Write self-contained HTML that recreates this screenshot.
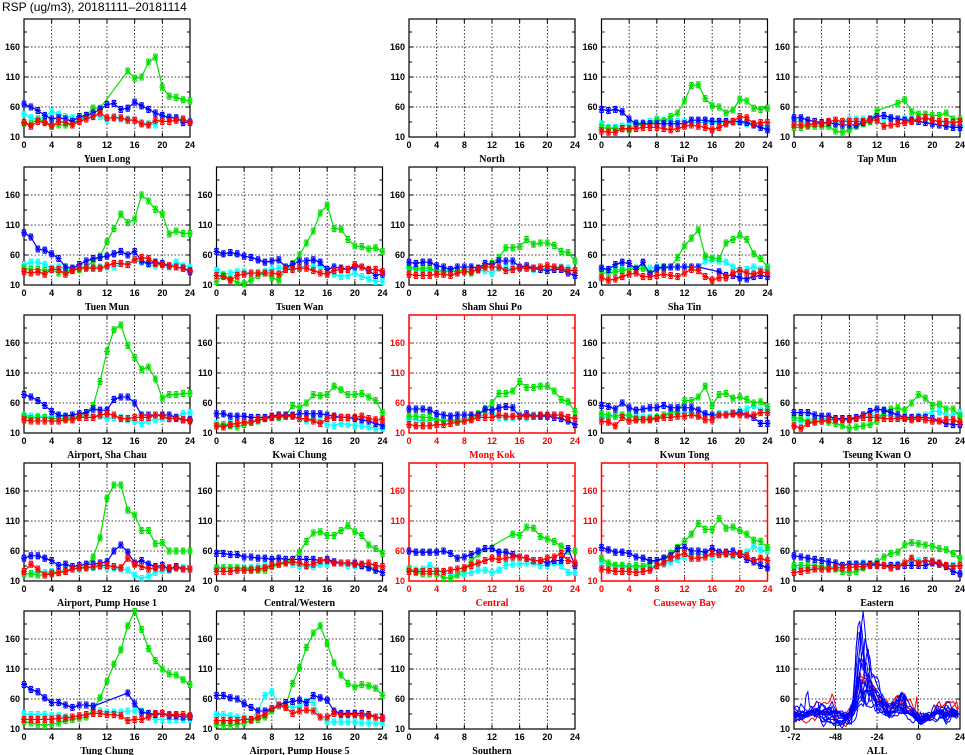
<!DOCTYPE html>
<html><head><meta charset="utf-8">
<style>
html,body{margin:0;padding:0;background:#fff;}
svg{display:block;font-family:"Liberation Sans",sans-serif;}
.tk{font-size:9px;font-weight:bold;}
.tt{font-size:10px;font-weight:bold;font-family:"Liberation Serif",serif;}
</style></head>
<body>
<svg id="chart" width="965" height="755" viewBox="0 0 965 755" xmlns="http://www.w3.org/2000/svg">
<rect width="965" height="755" fill="#fff"/>
<text x="2" y="11" font-size="12">RSP (ug/m3), 20181111–20181114</text>
</svg>
<script>
const hours = [0,1,2,3,4,5,6,7,8,9,10,11,12,13,14,15,16,17,18,19,20,21,22,23,24];
const yTicks = [10,60,110,160];
const xTicks = [0,4,8,12,16,20,24];
const allXTicks = [-72,-48,-24,0,24];
const seriesColors = ["#00ffff","#00e000","#0000ff","#ff0000"];
const N = null;
const yuenLongBlue = [65,60,54,46,40,42,40,36,44,46,50,56,64,66,56,58,68,62,56,50,46,42,42,34,35];
const yuenLongCyan = [48,42,40,44,52,48,44,42,38,44,46,44,38,44,40,40,38,34,32,30,44,44,40,38,34];
const yuenLongGreen = [33,32,40,36,30,30,30,30,40,46,58,58,N,N,N,120,108,110,135,143,93,78,76,72,70];
const yuenLongRed = [34,28,36,34,28,36,34,30,36,40,44,50,42,42,42,38,38,32,30,38,36,36,38,40,34];
const taiPoBlue = [56,54,56,52,40,32,32,32,32,32,32,32,32,38,38,38,36,36,36,36,36,34,30,26,22];
const taiPoCyan = [32,26,26,28,32,34,34,36,40,38,36,36,36,34,34,34,34,34,34,34,34,32,30,30,28];
const taiPoGreen = [26,24,24,24,22,30,30,32,38,36,44,50,70,96,97,74,62,60,50,55,73,70,58,56,58];
const taiPoRed = [20,18,18,24,24,24,26,26,26,24,22,24,28,30,28,26,22,26,32,36,44,42,32,34,34];
const tapMunBlue = [42,42,38,36,34,34,32,30,30,30,34,40,44,46,42,40,38,38,36,34,32,30,28,26,26];
const tapMunCyan = [36,36,32,32,32,32,32,36,40,40,40,40,40,40,40,40,40,40,40,40,38,36,34,30,28];
const tapMunGreen = [26,26,28,28,28,28,20,18,22,28,32,36,54,N,N,66,72,52,48,48,46,46,50,40,40];
const tapMunRed = [30,30,30,32,32,36,38,36,36,36,36,38,38,28,30,32,34,36,40,42,38,36,36,34,36];
const tuenMunBlue = [97,90,70,68,62,54,40,38,44,50,54,56,58,62,66,60,66,50,46,48,46,42,40,38,32];
const tuenMunCyan = [44,48,48,44,38,40,38,36,40,40,40,40,40,40,46,44,52,48,44,42,44,40,48,42,40];
const tuenMunGreen = [38,36,36,34,36,30,32,36,36,40,50,58,82,104,128,114,120,160,150,136,128,95,100,96,96];
const tuenMunRed = [32,30,32,28,36,36,28,34,38,38,38,38,42,46,46,44,52,56,54,46,44,42,40,38,34];
const tsuenWanBlue = [66,62,64,62,58,56,52,48,50,52,40,44,50,50,52,48,36,40,38,36,40,40,34,26,28];
const tsuenWanCyan = [34,28,30,32,32,30,30,32,36,38,38,38,38,42,42,42,36,28,24,26,30,24,20,16,16];
const tsuenWanGreen = [16,26,20,14,12,18,26,30,22,18,36,46,60,80,100,130,143,104,103,86,75,74,70,72,66];
const tsuenWanRed = [26,24,18,26,28,30,30,30,30,28,36,36,38,38,34,30,28,34,36,36,44,40,36,36,32];
const shamShuiPoBlue = [48,46,48,48,42,40,36,40,40,40,38,46,44,50,50,50,40,42,38,36,34,36,36,30,26];
const shamShuiPoCyan = [38,36,34,34,36,34,34,32,36,36,34,34,30,38,38,38,40,38,36,36,38,38,40,38,34];
const shamShuiPoGreen = [40,38,38,38,32,32,32,34,34,30,38,42,46,56,72,72,74,86,78,80,80,76,66,64,50];
const shamShuiPoRed = [28,26,26,26,28,28,26,30,32,32,36,40,40,40,34,36,38,38,38,40,42,40,38,34,34];
const shaTinBlue = [38,36,44,48,46,36,48,28,38,40,40,40,40,40,40,N,N,32,26,26,22,20,24,26,24];
const shaTinCyan = [36,34,36,36,36,38,38,38,40,40,40,40,40,40,40,50,52,50,48,40,34,36,40,36,36];
const shaTinGreen = [30,30,32,34,36,38,38,30,36,38,40,56,75,88,102,58,55,54,80,86,93,86,62,54,40];
const shaTinRed = [22,18,20,24,28,30,24,24,26,28,26,24,30,36,34,24,18,22,22,30,34,30,28,32,30];
const shaChauBlue = [74,70,64,56,46,40,38,40,42,44,50,48,48,66,70,70,60,40,40,40,40,40,36,32,32];
const shaChauCyan = [40,38,38,36,38,38,36,36,36,40,40,38,34,36,36,32,30,26,30,32,34,34,36,42,44];
const shaChauGreen = [38,34,36,36,34,34,34,36,38,44,56,96,146,182,190,156,136,116,120,100,68,74,74,76,76];
const shaChauRed = [32,30,30,30,30,30,32,32,36,36,36,40,42,40,34,34,36,36,36,40,38,34,34,32,30];
const kwaiChungBlue = [42,42,38,38,38,36,36,36,38,40,40,40,42,42,42,42,40,38,36,36,34,32,30,26,22];
const kwaiChungCyan = [26,24,26,26,28,30,30,34,36,36,38,38,34,30,34,30,24,22,26,24,22,22,20,18,18];
const kwaiChungGreen = [22,24,22,20,24,28,30,34,36,36,38,56,52,60,74,72,74,88,82,74,74,76,70,64,44];
const kwaiChungRed = [22,20,24,26,28,28,32,34,36,38,38,38,34,34,30,26,34,36,36,36,36,38,34,32,32];
const mongKokBlue = [50,50,50,48,42,40,38,40,40,40,40,50,48,52,54,52,38,42,38,38,38,36,34,30,24];
const mongKokCyan = [34,32,30,30,32,32,32,32,34,36,38,40,44,36,36,36,40,36,40,38,38,40,40,36,34];
const mongKokGreen = [38,38,36,36,32,30,30,30,30,34,42,48,60,76,76,80,96,86,86,88,88,80,66,62,46];
const mongKokRed = [24,22,22,22,24,24,26,28,30,32,36,36,36,40,38,38,38,38,38,40,40,40,40,36,34];
const kwunTongBlue = [56,54,50,60,52,48,50,52,52,56,52,52,52,52,48,42,40,40,40,42,44,40,36,26,26];
const kwunTongCyan = [38,36,38,40,38,38,36,36,36,40,40,42,44,44,40,40,40,42,42,44,46,50,56,48,48];
const kwunTongGreen = [42,40,38,40,40,34,32,34,36,40,44,46,64,64,70,88,56,74,76,68,70,66,60,62,54];
const kwunTongRed = [30,28,22,36,30,32,32,32,34,36,36,38,38,40,38,32,32,40,40,42,40,40,40,44,44];
const tkoBlue = [44,44,44,40,38,38,34,34,34,36,40,46,50,48,44,40,36,36,36,36,34,30,26,24,24];
const tkoCyan = [32,30,32,34,34,34,34,34,34,34,36,38,40,40,38,36,36,34,38,40,46,46,40,40,44];
const tkoGreen = [36,34,28,30,30,28,26,22,18,20,22,24,30,46,50,52,48,60,74,68,56,58,50,50,38];
const tkoRed = [22,18,26,28,30,32,32,32,32,34,36,36,36,34,34,34,34,32,34,32,30,30,32,32,28];
const ph1Blue = [48,52,52,48,44,36,38,34,36,38,38,40,42,60,70,58,40,44,38,34,36,30,34,30,30];
const ph1Cyan = [22,22,26,24,26,26,28,30,30,32,32,34,32,32,30,28,20,14,18,24,28,28,32,32,30];
const ph1Green = [22,22,20,20,24,24,26,30,32,34,50,82,148,170,170,128,120,94,94,72,74,60,60,60,60];
const ph1Red = [26,38,30,20,22,24,26,30,32,32,34,36,36,34,32,48,38,34,30,32,32,32,32,30,30];
const cwBlue = [56,56,54,54,50,50,48,48,46,48,46,46,46,46,46,44,46,42,40,40,40,36,32,28,24];
const cwCyan = [30,32,32,32,32,32,34,36,38,40,42,38,36,34,34,38,38,40,40,36,36,34,34,32,32];
const cwGreen = [32,32,32,32,30,30,28,28,34,38,42,46,58,76,90,92,86,86,94,102,92,86,70,64,56];
const cwRed = [26,26,26,28,28,28,30,32,36,38,40,42,40,36,38,44,44,40,40,40,38,38,40,36,34];
const centralBlue = [60,58,58,58,58,60,56,48,50,54,60,64,64,58,58,54,50,48,44,44,40,44,44,64,36];
const centralCyan = [30,28,30,36,28,24,22,20,22,24,28,28,24,28,36,38,38,40,40,36,36,40,36,24,24];
const centralGreen = [30,24,22,22,22,16,14,20,30,42,55,N,N,N,N,88,86,100,98,84,80,76,68,60,60];
const centralRed = [26,26,26,26,26,26,28,30,32,36,40,44,48,46,48,50,50,48,44,44,48,50,56,44,40];
const cbBlue = [66,62,58,58,56,50,48,44,44,48,52,64,66,60,60,58,64,58,58,60,54,46,42,36,32];
const cbCyan = [42,36,34,34,32,32,34,34,34,38,42,46,50,56,54,54,50,54,54,52,54,58,68,62,60];
const cbGreen = [48,40,36,36,34,36,34,40,44,48,56,66,76,88,106,96,96,114,98,100,94,88,78,76,66];
const cbRed = [30,28,26,26,26,24,26,28,36,40,48,52,56,48,48,50,56,54,56,54,56,52,44,48,44];
const easternBlue = [52,50,48,46,44,42,40,36,38,38,38,38,38,36,36,36,36,36,36,36,40,38,34,26,22];
const easternCyan = [32,32,32,32,32,34,34,36,38,38,40,38,38,36,36,38,40,42,44,44,44,40,36,36,36];
const easternGreen = [36,36,36,36,34,32,30,26,24,26,32,38,42,50,56,58,70,74,72,70,68,64,62,56,48];
const easternRed = [24,26,28,30,30,30,32,32,32,34,34,36,36,36,32,34,40,48,40,44,42,40,36,34,36];
const tungChungBlue = [84,76,72,62,54,54,50,46,50,50,48,N,N,N,N,70,52,38,36,34,36,32,32,30,30];
const tungChungCyan = [36,34,34,34,32,32,30,30,32,34,38,40,38,38,38,40,40,40,34,26,26,26,26,26,26];
const tungChungGreen = [22,20,18,16,18,20,24,26,28,30,42,62,90,118,142,182,206,176,144,124,110,102,100,92,84];
const tungChungRed = [26,26,26,26,26,28,28,30,32,34,36,36,34,34,32,24,26,26,30,36,36,34,34,34,32];
const ph5Blue = [66,66,62,60,52,46,40,40,44,50,54,56,58,54,66,62,58,40,36,36,36,36,34,30,28];
const ph5Cyan = [34,34,32,30,28,26,40,66,72,48,48,46,48,56,54,30,22,22,22,22,22,20,20,20,20];
const ph5Green = [18,16,16,18,20,24,26,30,40,50,48,86,112,146,170,182,152,120,100,86,80,84,82,78,66];
const ph5Red = [24,24,24,24,26,26,30,34,44,50,46,36,40,42,40,30,30,36,34,34,34,32,32,30,28];

const stations = [
 {name:"Yuen Long",row:0,col:0,s:[yuenLongCyan,yuenLongGreen,yuenLongBlue,yuenLongRed]},
 {name:"North",row:0,col:2,s:null},
 {name:"Tai Po",row:0,col:3,s:[taiPoCyan,taiPoGreen,taiPoBlue,taiPoRed]},
 {name:"Tap Mun",row:0,col:4,s:[tapMunCyan,tapMunGreen,tapMunBlue,tapMunRed]},
 {name:"Tuen Mun",row:1,col:0,s:[tuenMunCyan,tuenMunGreen,tuenMunBlue,tuenMunRed]},
 {name:"Tsuen Wan",row:1,col:1,s:[tsuenWanCyan,tsuenWanGreen,tsuenWanBlue,tsuenWanRed]},
 {name:"Sham Shui Po",row:1,col:2,s:[shamShuiPoCyan,shamShuiPoGreen,shamShuiPoBlue,shamShuiPoRed]},
 {name:"Sha Tin",row:1,col:3,s:[shaTinCyan,shaTinGreen,shaTinBlue,shaTinRed]},
 {name:"Airport, Sha Chau",row:2,col:0,s:[shaChauCyan,shaChauGreen,shaChauBlue,shaChauRed]},
 {name:"Kwai Chung",row:2,col:1,s:[kwaiChungCyan,kwaiChungGreen,kwaiChungBlue,kwaiChungRed]},
 {name:"Mong Kok",row:2,col:2,red:true,s:[mongKokCyan,mongKokGreen,mongKokBlue,mongKokRed]},
 {name:"Kwun Tong",row:2,col:3,s:[kwunTongCyan,kwunTongGreen,kwunTongBlue,kwunTongRed]},
 {name:"Tseung Kwan O",row:2,col:4,s:[tkoCyan,tkoGreen,tkoBlue,tkoRed]},
 {name:"Airport, Pump House 1",row:3,col:0,s:[ph1Cyan,ph1Green,ph1Blue,ph1Red]},
 {name:"Central/Western",row:3,col:1,s:[cwCyan,cwGreen,cwBlue,cwRed]},
 {name:"Central",row:3,col:2,red:true,s:[centralCyan,centralGreen,centralBlue,centralRed]},
 {name:"Causeway Bay",row:3,col:3,red:true,s:[cbCyan,cbGreen,cbBlue,cbRed]},
 {name:"Eastern",row:3,col:4,s:[easternCyan,easternGreen,easternBlue,easternRed]},
 {name:"Tung Chung",row:4,col:0,s:[tungChungCyan,tungChungGreen,tungChungBlue,tungChungRed]},
 {name:"Airport, Pump House 5",row:4,col:1,s:[ph5Cyan,ph5Green,ph5Blue,ph5Red]},
 {name:"Southern",row:4,col:2,s:null}
];

const NS="http://www.w3.org/2000/svg";
const svg=document.getElementById("chart");
const PW=166, PH=118, YMIN=10, YMAX=10+118*50/30;
function mk(tag,attrs,parent){const e=document.createElementNS(NS,tag);for(const k in attrs)e.setAttribute(k,attrs[k]);(parent||svg).appendChild(e);return e;}
function slug(s){return s.toLowerCase().replace(/[^a-z0-9]+/g,'-').replace(/-$/,'');}

function drawPanel(name,row,col,isRed,xmin,xmax,xt,gridX){
  const x0=24+col*192.5, y0=19+row*148;
  const g=mk("g",{});
  
  
  const sx=v=>x0+(v-xmin)/(xmax-xmin)*PW;
  const sy=v=>y0+PH-(v-YMIN)/(YMAX-YMIN)*PH;
  const fc=isRed?"#ff0000":"#000";
  gridX.forEach(t=>{const l=mk("line",{x1:sx(t),x2:sx(t),y1:y0,y2:y0+PH,stroke:"#000","stroke-width":0.8,"stroke-dasharray":"1.5,2"},g);
    });
  [60,110,160].forEach(t=>{const l=mk("line",{x1:x0,x2:x0+PW,y1:sy(t),y2:sy(t),stroke:"#000","stroke-width":0.8,"stroke-dasharray":"1.5,2"},g);
    });
  xt.forEach(t=>{mk("line",{x1:sx(t),x2:sx(t),y1:y0,y2:y0+4,stroke:fc,"stroke-width":1},g);mk("line",{x1:sx(t),x2:sx(t),y1:y0+PH,y2:y0+PH-4,stroke:fc,"stroke-width":1},g);
    const tx=mk("text",{x:sx(t),y:y0+PH+11,"text-anchor":"middle",class:"tk",fill:fc},g);tx.textContent=t;
    });
  for(let v=35;v<YMAX;v+=25){const L=(v-10)%50===0?4:3;mk("line",{x1:x0,x2:x0+L,y1:sy(v),y2:sy(v),stroke:fc,"stroke-width":1},g);mk("line",{x1:x0+PW,x2:x0+PW-L,y1:sy(v),y2:sy(v),stroke:fc,"stroke-width":1},g);}
  yTicks.forEach(t=>{const tx=mk("text",{x:x0-4,y:sy(t)+3,"text-anchor":"end",class:"tk",fill:fc},g);tx.textContent=t;
    });
  const fr=mk("rect",{x:x0,y:y0,width:PW,height:PH,fill:"none",stroke:fc,"stroke-width":isRed?1.5:1.2},g);
  
  const ti=mk("text",{x:x0+PW/2,y:y0+PH+25,"text-anchor":"middle",class:"tt",fill:fc},g);ti.textContent=name;
  
  return {g,sx,sy,x0,y0};
}
function star(g,x,y,c){const r=3;const p=mk("path",{d:`M${x-r},${y}H${x+r}M${x},${y-r}V${y+r}M${x-r*0.75},${y-r*0.75}L${x+r*0.75},${y+r*0.75}M${x-r*0.75},${y+r*0.75}L${x+r*0.75},${y-r*0.75}M${x-r*0.7},${y-r}H${x+r*0.7}M${x-r*0.7},${y+r}H${x+r*0.7}`,stroke:c,"stroke-width":1.1,fill:"none"},g);
  }

const seriesNames=["cyan","green","blue","red"];
stations.forEach(st=>{
  const P=drawPanel(st.name,st.row,st.col,st.red,0,24,xTicks,[4,8,12,16,20]);
  if(!st.s)return;
  st.s.forEach((arr,si)=>{
    const pts=[];arr.forEach((v,i)=>{if(v!==null)pts.push([P.sx(hours[i]),P.sy(Math.min(v,YMAX))]);});
    const pl=mk("polyline",{points:pts.map(p=>p.join(",")).join(" "),fill:"none",stroke:seriesColors[si],"stroke-width":1.2},P.g);
    
    
    pts.forEach(p=>star(P.g,p[0],p[1],seriesColors[si]));
  });
});

const A=drawPanel("ALL",4,4,false,-72,24,allXTicks,[-48,-24,0]);
const clip=mk("clipPath",{id:"allclip"});mk("rect",{x:A.x0,y:A.y0,width:PW,height:PH},clip);
const allG=mk("g",{"clip-path":"url(#allclip)"},A.g);
const order=stations.filter(s=>s.s&&s.red).concat(stations.filter(s=>s.s&&!s.red));
order.forEach(st=>{
  const pts=[];
  st.s.forEach((arr,d)=>{arr.forEach((v,i)=>{if(v!==null&&i<24)pts.push([A.sx(-72+d*24+hours[i]),A.sy(v)]);});});
  const pl=mk("polyline",{points:pts.map(p=>p.join(",")).join(" "),fill:"none",stroke:st.red?"#ff0000":"#0000ff","stroke-width":1},allG);
  
  
});
</script>
</body></html>
